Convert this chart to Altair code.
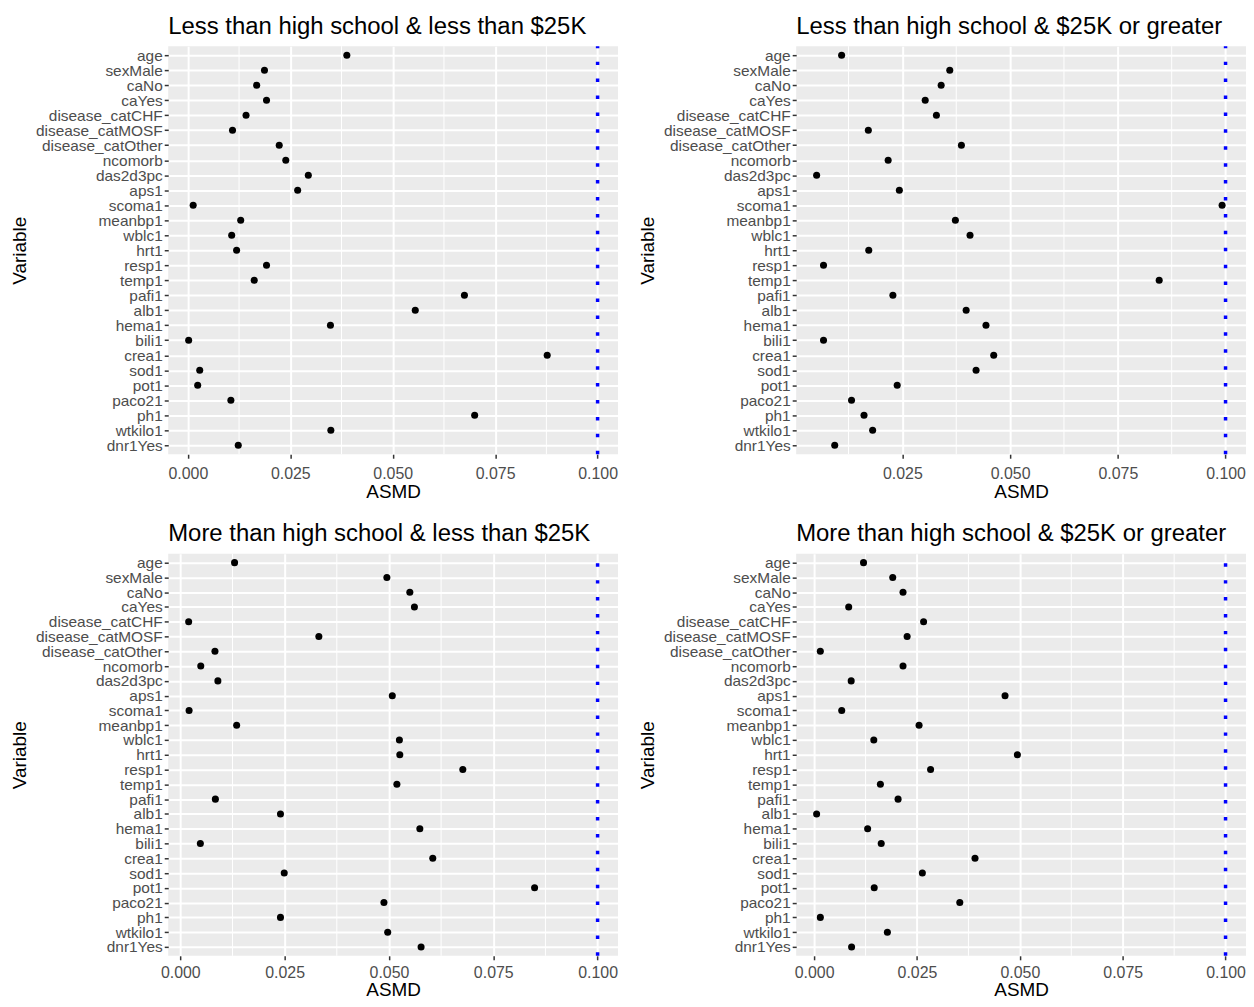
import altair as alt
import pandas as pd

variables = ["age", "sexMale", "caNo", "caYes", "disease_catCHF", "disease_catMOSF",
             "disease_catOther", "ncomorb", "das2d3pc", "aps1", "scoma1", "meanbp1",
             "wblc1", "hrt1", "resp1", "temp1", "pafi1", "alb1", "hema1", "bili1",
             "crea1", "sod1", "pot1", "paco21", "ph1", "wtkilo1", "dnr1Yes"]

titles = ["Less than high school & less than $25K",
          "Less than high school & $25K or greater",
          "More than high school & less than $25K",
          "More than high school & $25K or greater"]

asmd_p1 = [0.0388, 0.0187, 0.0168, 0.0192, 0.0142, 0.0109, 0.0223, 0.0239, 0.0294,
           0.0268, 0.0013, 0.0129, 0.0107, 0.0119, 0.0192, 0.0162, 0.0675, 0.0555,
           0.0348, 0.0002, 0.0877, 0.0029, 0.0024, 0.0105, 0.0700, 0.0349, 0.0123]
asmd_p2 = [0.0109, 0.0360, 0.0340, 0.0303, 0.0329, 0.0171, 0.0387, 0.0217, 0.0051,
           0.0243, 0.0992, 0.0373, 0.0407, 0.0172, 0.0067, 0.0846, 0.0228, 0.0398,
           0.0444, 0.0067, 0.0462, 0.0421, 0.0238, 0.0132, 0.0161, 0.0181, 0.0093]
asmd_p3 = [0.0130, 0.0495, 0.0550, 0.0561, 0.0020, 0.0332, 0.0083, 0.0049, 0.0090,
           0.0508, 0.0021, 0.0135, 0.0525, 0.0526, 0.0677, 0.0519, 0.0084, 0.0240,
           0.0574, 0.0048, 0.0605, 0.0249, 0.0849, 0.0488, 0.0240, 0.0497, 0.0577]
asmd_p4 = [0.0120, 0.0191, 0.0216, 0.0084, 0.0266, 0.0226, 0.0015, 0.0216, 0.0090,
           0.0464, 0.0067, 0.0255, 0.0145, 0.0494, 0.0283, 0.0161, 0.0204, 0.0006,
           0.0130, 0.0163, 0.0391, 0.0263, 0.0146, 0.0354, 0.0015, 0.0178, 0.0091]

threshold = 0.1
tick_values = [0.0, 0.025, 0.05, 0.075, 0.1]

FONT = "Liberation Sans"
W = 452


def panel(title, values, h, label_pad, title_pad):
    lo = min(values)
    hi = threshold
    rng = hi - lo
    domain = [lo - 0.05 * rng, hi + 0.05 * rng]
    ticks = [t for t in tick_values if domain[0] <= t <= domain[1]]
    minor = [(a + b) / 2 for a, b in zip(tick_values[:-1], tick_values[1:])]
    minor = [m for m in minor if domain[0] <= m <= domain[1]]
    xscale = alt.Scale(domain=domain, nice=False, zero=False)

    df = pd.DataFrame({"Variable": variables, "ASMD": values})
    minor_df = pd.DataFrame({"ASMD": minor})
    thr_df = pd.DataFrame({"ASMD": [threshold]})

    xaxis = alt.Axis(values=ticks, format=".3f", title="ASMD", grid=True,
                     gridColor="white", gridWidth=2, domain=False,
                     tickColor="#333333", tickSize=4, tickWidth=1.5,
                     labelColor="#4D4D4D", labelFontSize=16, labelPadding=label_pad,
                     labelFont=FONT, titleFont=FONT, titleFontSize=19,
                     titleFontWeight="normal", titleColor="black", titlePadding=title_pad)
    yaxis = alt.Axis(title="Variable", grid=True, gridColor="white", gridWidth=2,
                     domain=False, tickColor="#333333", tickSize=4, tickWidth=1.5,
                     labelColor="#4D4D4D", labelFontSize=15.5, labelPadding=2,
                     labelFont=FONT, titleFont=FONT, titleFontSize=19,
                     titleFontWeight="normal", titleColor="black", titlePadding=5,
                     minExtent=134, maxExtent=134)

    minor_layer = alt.Chart(minor_df).mark_rule(color="white", strokeWidth=1).encode(
        x=alt.X("ASMD:Q", scale=xscale, axis=xaxis)
    )
    points = alt.Chart(df).mark_circle(size=50, color="black", opacity=1).encode(
        x=alt.X("ASMD:Q", scale=xscale, axis=xaxis),
        y=alt.Y("Variable:N", sort=variables,
                scale=alt.Scale(type="point", padding=0.6), axis=yaxis),
    )
    vline = alt.Chart(thr_df).mark_rule(color="#0000FF", strokeWidth=3.5,
                                        strokeDash=[3.5, 13.5]).encode(
        x=alt.X("ASMD:Q", scale=xscale, axis=xaxis),
        y=alt.value(h), y2=alt.value(0)
    )
    return alt.layer(minor_layer, points, vline).properties(
        width=W, height=h,
        view=alt.ViewBackground(fill="#EBEBEB", strokeWidth=0),
        title=alt.TitleParams(text=title, anchor="start", frame="group",
                              fontSize=24, fontWeight="normal", color="black",
                              font=FONT, offset=6)
    )


c1 = panel(titles[0], asmd_p1, 410, 7, 1)
c2 = panel(titles[1], asmd_p2, 410, 7, 1)
c3 = panel(titles[2], asmd_p3, 404, 5, 0)
c4 = panel(titles[3], asmd_p4, 404, 5, 0)

row1 = alt.hconcat(c1, c2, spacing=21)
row2 = alt.hconcat(c3, c4, spacing=21)
chart = alt.vconcat(row1, row2, spacing=21).properties(
    padding={"left": 3, "top": 4, "right": 0, "bottom": -3}
).configure(font=FONT).configure_view(fill="#EBEBEB", strokeWidth=0)

chart.save("out.html", embed_options={"renderer": "svg", "actions": False})
